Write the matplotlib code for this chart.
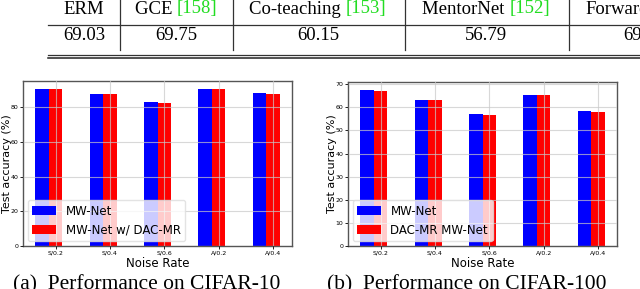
import matplotlib
matplotlib.use("Agg")
import matplotlib.pyplot as plt
import numpy as np
from matplotlib.lines import Line2D

categories = ["S/0.2", "S/0.4", "S/0.6", "A/0.2", "A/0.4"]
c10_mwnet = [90.6, 87.7, 82.9, 90.6, 88.2]
c10_dac = [90.4, 87.5, 82.7, 90.4, 87.9]
c100_mwnet = [67.6, 63.4, 57.3, 65.4, 58.3]
c100_dac = [67.3, 63.0, 56.9, 65.4, 58.1]

tbl_headers = ["ERM", "GCE ", "Co-teaching ", "MentorNet ", "Forward"]
tbl_cites = ["", "[158]", "[153]", "[152]", ""]
tbl_values = ["69.03", "69.75", "60.15", "56.79", "69.01"]

W, H = 640, 289
fig = plt.figure(figsize=(W / 100, H / 100), dpi=100)

def ax_rect(x0, y0, x1, y1):
    return [x0 / W, 1 - y1 / H, (x1 - x0) / W, (y1 - y0) / H]

spine_col = "#555555"

def panel(rect, a, b, labels, ylab_x):
    ax = fig.add_axes(rect)
    x = np.arange(len(categories))
    w = 0.25
    ax.bar(x - w, a, width=w, color="blue", label=labels[0], zorder=2)
    ax.bar(x, b, width=w, color="red", label=labels[1], zorder=2)
    ax.set_xticks(x)
    ax.set_xticklabels(categories)
    ax.tick_params(labelsize=4.5, length=2, width=0.6, pad=1.2, colors="black")
    ax.grid(True, color="#c8c8c8", linewidth=0.8, alpha=0.7, zorder=3)
    ax.set_axisbelow(False)
    for s in ax.spines.values():
        s.set_color(spine_col)
        s.set_linewidth(1.0)
    ax.set_xlabel("Noise Rate", fontsize=8.5, labelpad=1)
    ax.set_ylabel("Test accuracy (%)", fontsize=8)
    ax.yaxis.set_label_coords(ylab_x, 0.5)
    leg = ax.legend(loc="lower left", fontsize=8.5, framealpha=0.8,
                    borderaxespad=0.4, handlelength=2.0, handleheight=0.75)
    leg.get_frame().set_edgecolor("#dddddd")
    return ax

panel(ax_rect(23, 81, 292, 246), c10_mwnet, c10_dac, ["MW-Net", "MW-Net w/ DAC-MR"], -0.041)
panel(ax_rect(348, 82, 617, 246), c100_mwnet, c100_dac, ["MW-Net", "DAC-MR MW-Net"], -0.040)

serif = ["Liberation Serif", "DejaVu Serif"]
fig.text(147 / W, 1 - 285 / H, "(a)  Performance on CIFAR-10", fontsize=15.5,
         family=serif, ha="center", va="center")
fig.text(467 / W, 1 - 285 / H, "(b)  Performance on CIFAR-100", fontsize=15.5,
         family=serif, ha="center", va="center")

# table fragment
fs = 13.5
fig.canvas.draw()
renderer = fig.canvas.get_renderer()
centers = [84, 176, 318, 486, 640]
for i, (h, c, v) in enumerate(zip(tbl_headers, tbl_cites, tbl_values)):
    t1 = fig.text(0, 0, h, fontsize=fs, family=serif)
    t2 = fig.text(0, 0, c, fontsize=fs, family=serif, color="#22dd22")
    w1 = t1.get_window_extent(renderer).width if h else 0
    w2 = t2.get_window_extent(renderer).width if c else 0
    x0 = centers[i] - (w1 + w2) / 2
    if i == 4:
        x0 = 585
    t1.set_position((x0 / W, 1 - 9 / H)); t1.set_va("center")
    t2.set_position(((x0 + w1) / W, 1 - 9 / H)); t2.set_va("center")
    if i < 4:
        fig.text(centers[i] / W, 1 - 36 / H, v, fontsize=fs, family=serif,
                 ha="center", va="center")
    else:
        fig.text(623 / W, 1 - 36 / H, v, fontsize=fs, family=serif,
                 ha="left", va="center")

for xs in [120, 233, 405, 569]:
    fig.add_artist(Line2D([xs / W, xs / W], [1 - 0 / H, 1 - 50 / H],
                          color="#333333", linewidth=0.9))
fig.add_artist(Line2D([48 / W, 1], [1 - 24.5 / H, 1 - 24.5 / H], color="#333333", linewidth=0.9))
fig.add_artist(Line2D([48 / W, 1], [1 - 55 / H, 1 - 55 / H], color="#333333", linewidth=0.9))
fig.add_artist(Line2D([48 / W, 1], [1 - 57.5 / H, 1 - 57.5 / H], color="#222222", linewidth=1.1))

fig.savefig("out.png", dpi=100)
